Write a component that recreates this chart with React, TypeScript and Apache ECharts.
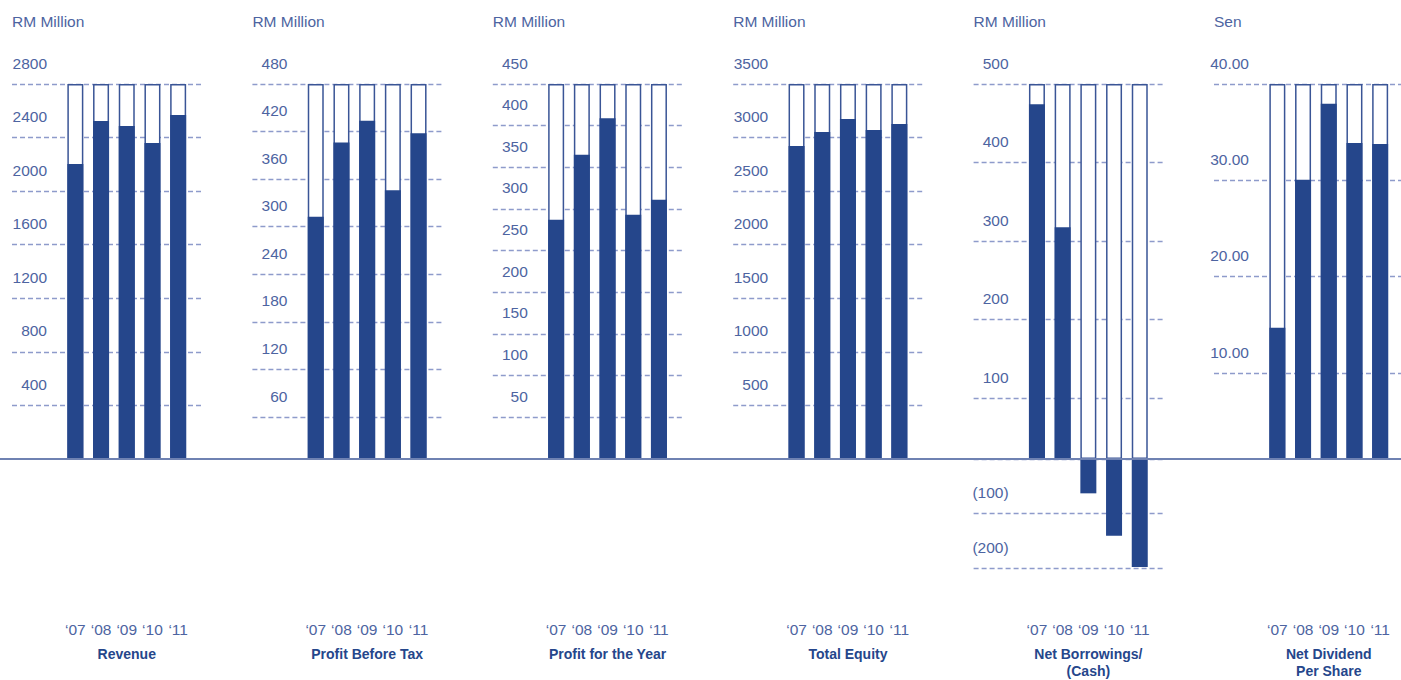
import React, { useEffect, useRef } from "react";
import * as echarts from "echarts";

// ---------- data ----------
const years = ["\u201807", "\u201808", "\u201809", "\u201810", "\u201811"];
const revenue = [2203, 2524, 2486, 2359, 2569];
const profitBeforeTax = [310, 405, 433, 344, 417];
const profitForYear = [287, 365, 409, 293, 311];
const totalEquity = [2921, 3052, 3173, 3071, 3127];
const netBorrowings = [473, 309, -63, -141, -198];
const netDividend = [14.0, 29.8, 37.9, 33.7, 33.6];

const panelTitles = [
  "Revenue",
  "Profit Before Tax",
  "Profit for the Year",
  "Total Equity",
  "Net Borrowings/\n(Cash)",
  "Net Dividend\nPer Share",
];
const units = ["RM Million", "RM Million", "RM Million", "RM Million", "RM Million", "Sen"];
const axisMax = [2800, 480, 450, 3500, 500, 40];
const axisStep = [400, 60, 50, 500, 100, 10];
// lowest labelled gridline of each panel's scale
const axisFirstTick = [400, 60, 50, 500, 100, 10];
const labelDecimals = [0, 0, 0, 0, 0, 2];
const negativeMin = -200;
const negativeStep = 100;
const panelValues = [revenue, profitBeforeTax, profitForYear, totalEquity, netBorrowings, netDividend];

// ---------- style / layout ----------
const FONT = "'Liberation Sans', Arial, sans-serif";
const BAR = "#25468b";
const OUTLINE = "#3a5596";
const TEXT = "#4d64a1";
const GRIDLINE = "#8e9bcb";
const BASELINE = "#6f82b2";

const TOP = 84;
const BASE = 459;
const NEG_BOTTOM = 568;
const X0 = 12;
const PITCH = 240.4;
const DISP_W = 189;
const BAR_OFF = 50.5;
const BAR_AREA_W = 128.5;
// y pixel of the lowest labelled gridline in each panel (the printed scale is not uniform down to the baseline)
const lowestGridY = [405.4, 417, 417.3, 405.4, 398, 373];

function buildOption() {
  const grid: any[] = [];
  const xAxis: any[] = [];
  const yAxis: any[] = [];
  const series: any[] = [];
  const title: any[] = [];

  const splitLine = { show: true, lineStyle: { color: GRIDLINE, type: [5, 3], width: 1.3 } };
  const labelBase = {
    inside: true,
    align: "right",
    margin: 35,
    verticalAlign: "bottom",
    padding: [0, 0, 13, 0],
    color: TEXT,
    fontSize: 15.5,
    fontFamily: FONT,
  };

  panelValues.forEach((vals, i) => {
    const gl = X0 + i * PITCH;
    const max = axisMax[i];
    const hasNeg = vals.some((v) => v < 0);

    // display grid (gridlines + tick labels + unit)
    let gi = grid.length;
    grid.push({ left: gl, top: TOP, width: DISP_W, height: lowestGridY[i] - TOP });
    xAxis.push({ type: "value", gridIndex: gi, show: false, min: 0, max: 1 });
    yAxis.push({
      type: "value",
      gridIndex: gi,
      min: axisFirstTick[i],
      max,
      interval: axisStep[i],
      name: units[i],
      nameLocation: "end",
      nameGap: 63,
      nameTextStyle: { align: "left", verticalAlign: "middle", color: TEXT, fontSize: 15.5, fontFamily: FONT },
      axisLine: { show: false },
      axisTick: { show: false },
      splitLine,
      axisLabel: {
        ...labelBase,
        formatter: (v: number) => v.toFixed(labelDecimals[i]),
      },
    });

    // bar grid
    gi = grid.length;
    grid.push({ left: gl + BAR_OFF, top: TOP, width: BAR_AREA_W, height: BASE - TOP });
    xAxis.push({
      type: "category",
      gridIndex: gi,
      data: years,
      axisLine: { show: false },
      axisTick: { show: false },
      axisLabel: { margin: 162, color: TEXT, fontSize: 15.5, fontFamily: FONT, interval: 0 },
    });
    yAxis.push({ type: "value", gridIndex: gi, min: 0, max, show: false });
    series.push({
      type: "bar",
      xAxisIndex: gi,
      yAxisIndex: gi,
      data: years.map(() => max),
      barWidth: 16,
      barGap: "-100%",
      silent: true,
      itemStyle: { color: "#ffffff", borderColor: OUTLINE, borderWidth: 1.5 },
    });
    series.push({
      type: "bar",
      xAxisIndex: gi,
      yAxisIndex: gi,
      data: vals.map((v) => (v > 0 ? v : "-")),
      barWidth: 16,
      barGap: "-100%",
      silent: true,
      itemStyle: { color: BAR },
    });

    if (hasNeg) {
      gi = grid.length;
      grid.push({ left: gl, top: BASE, width: DISP_W, height: NEG_BOTTOM - BASE });
      xAxis.push({ type: "value", gridIndex: gi, show: false, min: 0, max: 1 });
      yAxis.push({
        type: "value",
        gridIndex: gi,
        min: negativeMin,
        max: 0,
        interval: negativeStep,
        axisLine: { show: false },
        axisTick: { show: false },
        splitLine,
        axisLabel: {
          ...labelBase,
          showMaxLabel: false,
          formatter: (v: number) => `(${Math.abs(v)})`,
        },
      });
      gi = grid.length;
      grid.push({ left: gl + BAR_OFF, top: BASE, width: BAR_AREA_W, height: NEG_BOTTOM - BASE });
      xAxis.push({ type: "category", gridIndex: gi, data: years, show: false });
      yAxis.push({ type: "value", gridIndex: gi, min: negativeMin, max: 0, show: false });
      series.push({
        type: "bar",
        xAxisIndex: gi,
        yAxisIndex: gi,
        data: vals.map((v) => (v < 0 ? v : "-")),
        barWidth: 16,
        silent: true,
        itemStyle: { color: BAR },
      });
    }

    title.push({
      text: panelTitles[i],
      left: gl + BAR_OFF + BAR_AREA_W / 2,
      top: 645,
      padding: 0,
      textAlign: "center",
      textStyle: { fontSize: 14, fontWeight: "bold", color: BAR, fontFamily: FONT, lineHeight: 17 },
    });
  });

  return {
    animation: false,
    backgroundColor: "#ffffff",
    title,
    grid,
    xAxis,
    yAxis,
    series,
    graphic: [
      {
        type: "line",
        z: 100,
        silent: true,
        shape: { x1: 0, y1: BASE, x2: 1401, y2: BASE },
        style: { stroke: BASELINE, lineWidth: 2 },
      },
    ],
  };
}

export default function App() {
  const ref = useRef<HTMLDivElement>(null);
  useEffect(() => {
    if (!ref.current) return;
    const chart = echarts.init(ref.current, undefined, { renderer: "svg" });
    chart.setOption(buildOption() as any);
    return () => chart.dispose();
  }, []);
  return (
    <div
      ref={ref}
      style={{ position: "absolute", left: 0, top: 0, width: 1401, height: 680, background: "#fff" }}
    />
  );
}
